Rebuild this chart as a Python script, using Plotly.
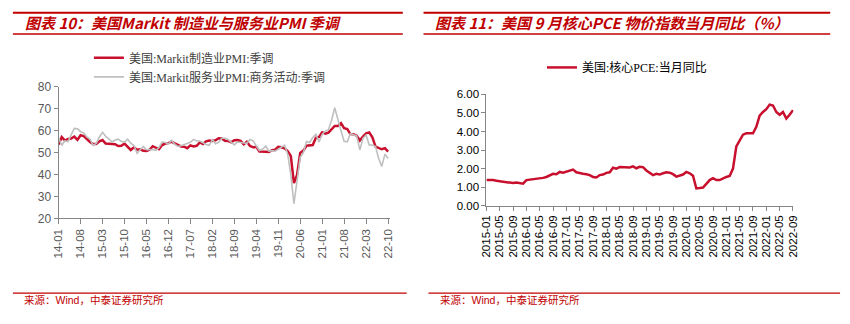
import pandas as pd
import plotly.graph_objects as go

W, H = 850, 324

# ---------------- data ----------------
pmi_months = [d.strftime("%y-%m") for d in pd.date_range("2014-01-01", "2022-10-01", freq="MS")]
mfg_pmi = [
    53.7, 57.1, 55.5, 56.2, 56.4, 57.3, 55.8, 57.9, 57.5, 55.9, 54.8, 53.9,
    53.9, 55.1, 55.7, 54.1, 54.0, 53.6, 53.8, 53.0, 53.1, 54.1, 52.8, 51.2,
    52.4, 51.3, 51.5, 50.8, 50.7, 51.3, 52.9, 52.0, 51.5, 53.4, 54.1, 54.3,
    55.0, 54.2, 53.3, 52.8, 52.7, 52.0, 53.3, 52.8, 53.1, 54.6, 53.9, 55.1,
    55.5, 55.3, 55.6, 56.5, 56.4, 55.4, 55.3, 54.7, 55.6, 55.7, 55.3, 53.8,
    54.9, 53.0, 52.4, 52.6, 50.5, 50.6, 50.4, 50.3, 51.1, 51.3, 52.6, 52.4,
    51.9, 50.7, 48.5, 36.1, 39.8, 49.8, 50.9, 53.1, 53.2, 53.4, 56.7, 57.1,
    59.2, 58.6, 59.1, 60.5, 62.1, 62.1, 63.4, 61.1, 60.7, 58.4, 58.3, 57.7,
    55.5, 57.3, 58.8, 59.2, 57.0, 52.7, 52.2, 51.5, 52.0, 50.4,
]
svc_pmi = [
    56.7, 53.3, 55.3, 55.0, 58.1, 61.0, 60.8, 59.5, 58.9, 57.1, 56.2, 53.3,
    54.2, 57.1, 59.2, 57.4, 56.2, 54.8, 55.7, 56.1, 55.1, 54.8, 56.1, 54.3,
    53.2, 49.7, 51.3, 52.8, 51.3, 51.4, 51.4, 51.0, 52.3, 54.8, 54.6, 53.9,
    55.6, 53.8, 52.8, 53.1, 53.6, 54.2, 54.7, 56.0, 55.3, 55.3, 54.5, 53.7,
    53.3, 55.9, 54.0, 54.6, 56.5, 56.5, 56.0, 54.8, 53.5, 54.8, 54.7, 54.4,
    54.2, 56.0, 55.3, 53.0, 50.9, 51.5, 53.0, 50.7, 50.9, 50.6, 51.6, 52.8,
    53.4, 49.4, 39.8, 26.7, 37.5, 47.9, 50.0, 55.0, 54.6, 56.9, 58.4, 54.8,
    58.3, 59.8, 60.4, 64.7, 70.4, 64.6, 59.9, 55.1, 54.9, 58.7, 58.0, 57.6,
    51.2, 56.5, 58.0, 53.5, 53.4, 52.7, 47.3, 43.7, 49.3, 47.3,
]
pmi_ticks = pmi_months[::7]

pce_months = [d.strftime("%Y-%m") for d in pd.date_range("2015-01-01", "2022-09-01", freq="MS")]
core_pce = [
    1.39, 1.40, 1.38, 1.35, 1.32, 1.31, 1.28, 1.23, 1.22, 1.25, 1.20, 1.19,
    1.38, 1.40, 1.42, 1.48, 1.50, 1.50, 1.55, 1.62, 1.72, 1.70, 1.82, 1.78,
    1.85, 1.92, 1.95, 1.80, 1.75, 1.72, 1.70, 1.65, 1.55, 1.52, 1.65, 1.68,
    1.77, 1.80, 2.05, 2.00, 2.08, 2.08, 2.10, 2.06, 2.12, 2.02, 2.10, 2.08,
    1.90, 1.75, 1.65, 1.72, 1.68, 1.75, 1.80, 1.78, 1.70, 1.57, 1.62, 1.68,
    1.82, 1.75, 1.62, 0.93, 0.95, 0.98, 1.18, 1.38, 1.48, 1.38, 1.38, 1.48,
    1.55, 1.60, 2.00, 3.20, 3.55, 3.83, 3.90, 3.90, 3.90, 4.25, 4.85, 5.05,
    5.20, 5.45, 5.40, 5.05, 4.90, 5.05, 4.70, 4.90, 5.15,
]
pce_ticks = pce_months[::4]

left_title = "图表 10：美国Markit 制造业与服务业PMI 季调"
right_title = "图表 11：美国 9 月核心PCE 物价指数当月同比（%）"
source_text = "来源：Wind，中泰证券研究所"

# ---------------- style ----------------
RED = "#C8102E"
DARKRED = "#C00000"
GREY_LINE = "#BFBFBF"
AXIS = "#868686"
SANS = "Liberation Sans, Arial, sans-serif"
LEG_FONT = "Liberation Serif, Noto Sans CJK SC, serif"
CJK = "Noto Sans CJK SC"


def px_x(p):
    return p / W


def px_y(p):
    return 1 - p / H


fig = go.Figure()
fig.add_trace(go.Scatter(x=pmi_months, y=mfg_pmi, mode="lines", name="美国:Markit制造业PMI:季调",
                         line=dict(color=RED, width=2.5), xaxis="x", yaxis="y", legend="legend"))
fig.add_trace(go.Scatter(x=pmi_months, y=svc_pmi, mode="lines", name="美国:Markit服务业PMI:商务活动:季调",
                         line=dict(color=GREY_LINE, width=1.6), xaxis="x", yaxis="y", legend="legend"))
fig.add_trace(go.Scatter(x=pce_months, y=core_pce, mode="lines", name="美国:核心PCE:当月同比",
                         line=dict(color=RED, width=2.5), xaxis="x2", yaxis="y2", legend="legend2"))

axis_common = dict(showgrid=False, zeroline=False, showline=True, linecolor=AXIS, linewidth=1,
                   ticks="outside", tickcolor=AXIS, tickwidth=1)

fig.update_layout(
    width=W, height=H, margin=dict(l=0, r=0, t=0, b=0),
    paper_bgcolor="white", plot_bgcolor="white",
    xaxis=dict(**axis_common, type="category", domain=[px_x(53.3), px_x(389.3)],
               range=[0, len(pmi_months) - 1 + 0.7], tickmode="array", tickvals=pmi_ticks,
               ticktext=pmi_ticks, tickangle=-90, ticklen=5,
               tickfont=dict(family=SANS, size=11.5, color="#595959"), anchor="y"),
    yaxis=dict(**axis_common, domain=[px_y(221), px_y(83.3)], range=[20, 80], dtick=10, ticklen=4,
               tickfont=dict(family=SANS, size=12, color="#595959"), anchor="x"),
    xaxis2=dict(**axis_common, type="category", domain=[px_x(486.7), px_x(797.8)],
                range=[0, len(pce_months) - 1 + 0.15], tickmode="array", tickvals=pce_ticks,
                ticktext=pce_ticks, tickangle=-90, ticklen=4,
                tickfont=dict(family=SANS, size=11.5, color="#000000"), anchor="y2"),
    yaxis2=dict(**axis_common, domain=[px_y(207.7), px_y(91.3)], range=[0, 6], dtick=1, ticklen=4,
                tickformat=".2f", tickfont=dict(family=SANS, size=11.5, color="#000000"), anchor="x2"),
    legend=dict(x=px_x(84), y=px_y(38), xanchor="left", yanchor="top", bgcolor="rgba(0,0,0,0)",
                font=dict(family=LEG_FONT, size=12, color="#404040"), tracegroupgap=0),
    legend2=dict(x=px_x(543), y=px_y(48), xanchor="left", yanchor="top", bgcolor="rgba(0,0,0,0)",
                 font=dict(family=LEG_FONT, size=12, color="#000000")),
    showlegend=True,
)

shapes = []
# header lines
for (x0, x1) in [(7, 402), (423, 835)]:
    shapes.append(dict(type="line", xref="paper", yref="paper", x0=px_x(x0), x1=px_x(x1),
                       y0=px_y(6), y1=px_y(6), line=dict(color=DARKRED, width=2)))
    shapes.append(dict(type="line", xref="paper", yref="paper", x0=px_x(x0), x1=px_x(x1),
                       y0=px_y(28.3), y1=px_y(28.3), line=dict(color=DARKRED, width=1.5)))
# footer lines
for (x0, x1) in [(7, 406), (428, 845)]:
    shapes.append(dict(type="line", xref="paper", yref="paper", x0=px_x(x0), x1=px_x(x1),
                       y0=px_y(299), y1=px_y(299), line=dict(color=DARKRED, width=1.2)))
fig.update_layout(shapes=shapes)

title_font = dict(family=CJK, size=15, color=DARKRED, weight="bold", style="italic")
annotations = [
    dict(text=left_title, x=px_x(17), y=px_y(16.5), xref="paper", yref="paper",
         xanchor="left", yanchor="middle", showarrow=False, font=title_font),
    dict(text=right_title, x=px_x(433), y=px_y(16.5), xref="paper", yref="paper",
         xanchor="left", yanchor="middle", showarrow=False, font=title_font),
    dict(text=source_text, x=px_x(16), y=px_y(306.5), xref="paper", yref="paper",
         xanchor="left", yanchor="middle", showarrow=False,
         font=dict(family="Liberation Sans, Noto Sans CJK SC", size=10.5, color=DARKRED)),
    dict(text=source_text, x=px_x(438), y=px_y(306.5), xref="paper", yref="paper",
         xanchor="left", yanchor="middle", showarrow=False,
         font=dict(family="Liberation Sans, Noto Sans CJK SC", size=10.5, color=DARKRED)),
]
fig.update_layout(annotations=annotations)

fig.write_html("out.html")
